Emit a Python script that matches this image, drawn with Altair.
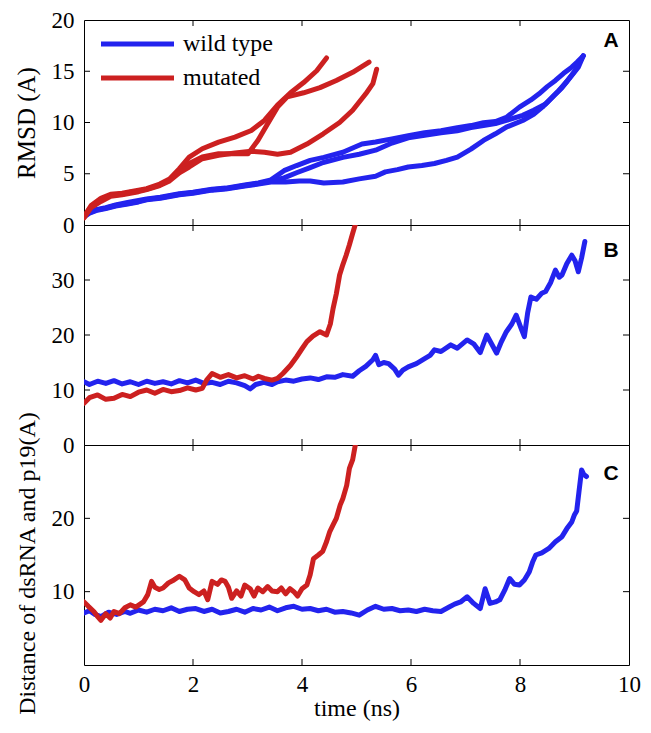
import altair as alt
import pandas as pd

SERIES = ["wild type", "mutated"]
COLORS = ["#2323ee", "#cc2020"]
X_LABELS = [0, 2, 4, 6, 8, 10]
X_INNER = [2, 4, 6, 8]

# ---------------- Panel A: RMSD ----------------
A_WT1 = [(0, 0.9), (0.1, 1.3), (0.22, 1.5), (0.4, 1.7), (0.58, 1.95), (0.8, 2.2), (1.0, 2.4), (1.15, 2.55),
         (1.4, 2.7), (1.6, 2.9), (1.75, 3.05), (2.0, 3.2), (2.35, 3.5), (2.6, 3.6), (2.95, 3.9), (3.2, 4.1),
         (3.43, 4.4), (3.67, 5.3), (3.9, 5.8), (4.15, 6.3), (4.4, 6.6), (4.75, 7.1), (5.1, 7.9), (5.35, 8.1),
         (5.65, 8.4), (5.95, 8.7), (6.25, 9.0), (6.55, 9.2), (6.85, 9.5), (7.1, 9.7), (7.33, 9.97), (7.55, 10.1),
         (7.75, 10.5), (7.99, 11.5), (8.2, 12.2), (8.35, 12.8), (8.5, 13.5), (8.65, 14.1), (8.8, 14.8),
         (8.95, 15.4), (9.05, 15.9), (9.16, 16.5)]
A_WT2 = [(0, 0.85), (0.1, 1.2), (0.22, 1.45), (0.4, 1.65), (0.58, 1.9), (0.8, 2.1), (1.0, 2.3), (1.15, 2.5),
         (1.4, 2.65), (1.6, 2.85), (1.75, 3.0), (2.0, 3.15), (2.35, 3.45), (2.6, 3.55), (2.95, 3.85), (3.2, 4.05),
         (3.43, 4.3), (3.67, 4.6), (3.9, 5.1), (4.15, 5.6), (4.39, 6.1), (4.75, 6.6), (5.05, 6.9), (5.35, 7.3),
         (5.65, 8.0), (5.95, 8.5), (6.25, 8.75), (6.55, 9.0), (6.85, 9.2), (7.1, 9.5), (7.33, 9.7), (7.55, 9.9),
         (7.75, 10.2), (8.05, 10.7), (8.25, 11.2), (8.47, 11.8), (8.62, 12.6), (8.77, 13.4), (8.92, 14.4),
         (9.07, 15.4), (9.16, 16.5)]
A_WT3 = [(0, 0.8), (0.1, 1.15), (0.22, 1.4), (0.4, 1.6), (0.58, 1.85), (0.8, 2.05), (1.0, 2.25), (1.15, 2.45),
         (1.4, 2.6), (1.6, 2.8), (1.75, 2.95), (2.0, 3.1), (2.35, 3.4), (2.6, 3.5), (2.95, 3.8), (3.2, 4.0),
         (3.43, 4.2), (3.7, 4.2), (3.95, 4.3), (4.15, 4.3), (4.4, 4.1), (4.75, 4.2), (5.05, 4.5), (5.35, 4.75),
         (5.53, 5.18), (5.75, 5.4), (5.95, 5.66), (6.2, 5.8), (6.43, 6.0), (6.65, 6.3), (6.85, 6.63), (7.1, 7.4),
         (7.33, 8.25), (7.55, 8.9), (7.75, 9.55), (8.05, 10.2), (8.25, 10.8), (8.41, 11.5), (8.56, 12.3),
         (8.71, 13.1), (8.86, 14.0), (9.01, 15.05), (9.16, 16.5)]
A_MU1 = [(0, 0.8), (0.13, 1.9), (0.31, 2.6), (0.49, 3.0), (0.7, 3.1), (0.85, 3.25), (1.0, 3.4), (1.15, 3.55),
         (1.39, 4.0), (1.57, 4.5), (1.75, 5.5), (1.93, 6.63), (2.17, 7.44), (2.47, 8.09), (2.77, 8.58),
         (3.07, 9.22), (3.31, 10.2), (3.55, 11.7), (3.79, 12.9), (4.03, 13.9), (4.27, 15.05), (4.45, 16.3)]
A_MU2 = [(0, 0.75), (0.13, 1.8), (0.31, 2.5), (0.49, 2.9), (0.7, 3.0), (0.85, 3.2), (1.0, 3.3), (1.15, 3.5),
         (1.39, 3.9), (1.57, 4.4), (1.75, 5.3), (1.93, 5.99), (2.17, 6.63), (2.47, 6.96), (2.77, 6.96),
         (3.01, 6.96), (3.19, 8.25), (3.37, 9.87), (3.55, 11.5), (3.73, 12.5), (4.03, 12.9), (4.33, 13.4),
         (4.63, 14.1), (4.93, 14.9), (5.23, 15.9)]
A_MU3 = [(0, 0.7), (0.13, 1.7), (0.31, 2.3), (0.49, 2.8), (0.7, 2.95), (0.85, 3.1), (1.0, 3.25), (1.15, 3.45),
         (1.39, 3.85), (1.57, 4.3), (1.75, 5.1), (1.93, 5.66), (2.17, 6.47), (2.47, 6.8), (2.77, 7.02),
         (3.07, 7.2), (3.31, 7.1), (3.55, 6.9), (3.79, 7.1), (4.09, 7.9), (4.39, 8.9), (4.69, 10.0),
         (4.93, 11.2), (5.17, 12.8), (5.3, 13.8), (5.37, 15.2)]

# ---------------- Panel B: distance ----------------
B_WT = [(0, 11.5), (0.1, 11.0), (0.25, 11.6), (0.4, 11.2), (0.55, 11.7), (0.7, 11.1), (0.85, 11.5), (1.0, 11.0),
        (1.15, 11.6), (1.3, 11.2), (1.45, 11.5), (1.6, 11.1), (1.75, 11.7), (1.9, 11.3), (2.05, 11.8),
        (2.2, 11.2), (2.35, 11.4), (2.5, 11.0), (2.65, 11.6), (2.8, 11.3), (2.95, 10.8), (3.05, 10.2),
        (3.15, 11.0), (3.3, 11.4), (3.45, 11.0), (3.55, 11.5), (3.7, 11.8), (3.85, 11.6), (4.0, 12.0),
        (4.15, 12.2), (4.3, 11.9), (4.45, 12.4), (4.6, 12.3), (4.75, 12.8), (4.93, 12.5), (5.05, 13.5),
        (5.17, 14.3), (5.3, 15.5), (5.35, 16.3), (5.41, 14.6), (5.5, 15.0), (5.59, 14.8), (5.7, 13.8),
        (5.77, 12.7), (5.85, 13.6), (5.95, 14.2), (6.1, 14.8), (6.25, 15.7), (6.35, 16.3), (6.43, 17.3),
        (6.55, 17.0), (6.73, 18.2), (6.85, 17.6), (7.03, 19.1), (7.15, 18.4), (7.27, 16.8), (7.39, 20.0),
        (7.5, 18.0), (7.57, 16.7), (7.66, 18.8), (7.75, 20.6), (7.85, 22.0), (7.93, 23.6), (8.02, 21.2),
        (8.08, 19.7), (8.14, 24.0), (8.2, 26.9), (8.3, 26.5), (8.4, 27.6), (8.47, 27.9), (8.56, 29.5),
        (8.65, 31.8), (8.72, 30.5), (8.77, 30.9), (8.86, 33.0), (8.95, 34.5), (9.01, 33.5), (9.07, 31.5),
        (9.13, 34.0), (9.19, 37.0)]
B_MU = [(0, 7.6), (0.1, 8.6), (0.25, 9.1), (0.4, 8.3), (0.55, 8.5), (0.7, 9.2), (0.85, 8.8), (1.0, 9.6),
        (1.15, 10.0), (1.3, 9.4), (1.45, 10.1), (1.6, 9.7), (1.75, 9.9), (1.9, 10.4), (2.05, 10.0),
        (2.17, 10.3), (2.25, 11.8), (2.35, 13.0), (2.5, 12.3), (2.65, 12.8), (2.8, 12.2), (2.95, 12.6),
        (3.1, 12.0), (3.2, 12.5), (3.31, 12.1), (3.45, 11.8), (3.55, 12.1), (3.65, 13.0), (3.79, 14.5),
        (3.9, 16.0), (4.0, 17.5), (4.09, 18.8), (4.2, 19.8), (4.33, 20.6), (4.45, 20.0), (4.52, 22.0),
        (4.57, 24.8), (4.63, 27.5), (4.69, 30.9), (4.75, 32.8), (4.81, 34.5), (4.87, 36.4), (4.93, 38.5),
        (4.99, 40.5), (5.05, 43.0)]

# ---------------- Panel C: distance ----------------
C_WT = [(0, 7.1), (0.1, 7.4), (0.2, 6.9), (0.31, 6.6), (0.45, 7.2), (0.6, 6.9), (0.75, 7.3), (0.85, 7.05),
        (1.0, 7.5), (1.15, 7.2), (1.3, 7.6), (1.45, 7.4), (1.6, 7.8), (1.75, 7.3), (1.9, 7.6), (2.05, 7.7),
        (2.2, 7.3), (2.35, 7.6), (2.5, 7.1), (2.65, 7.3), (2.8, 7.6), (2.95, 7.2), (3.1, 7.7), (3.25, 7.5),
        (3.4, 7.9), (3.55, 7.4), (3.7, 7.8), (3.85, 8.0), (4.0, 7.6), (4.15, 7.7), (4.3, 7.4), (4.45, 7.6),
        (4.6, 7.2), (4.75, 7.3), (4.9, 7.1), (5.05, 6.8), (5.2, 7.5), (5.35, 8.0), (5.5, 7.6), (5.65, 7.7),
        (5.8, 7.4), (5.95, 7.5), (6.1, 7.3), (6.25, 7.6), (6.4, 7.4), (6.55, 7.3), (6.7, 7.9), (6.8, 8.3),
        (6.91, 8.6), (7.03, 9.3), (7.15, 8.4), (7.27, 7.7), (7.36, 10.4), (7.45, 8.4), (7.55, 8.6),
        (7.63, 8.9), (7.72, 10.2), (7.81, 11.8), (7.9, 11.0), (7.99, 10.9), (8.08, 11.6), (8.17, 12.7),
        (8.23, 14.0), (8.29, 15.0), (8.4, 15.3), (8.53, 15.9), (8.65, 16.8), (8.77, 17.5), (8.86, 18.6),
        (8.95, 19.5), (9.0, 20.5), (9.04, 21.0), (9.08, 23.5), (9.13, 26.6), (9.17, 26.0), (9.22, 25.7)]
C_MU = [(0, 8.6), (0.08, 8.0), (0.18, 7.3), (0.25, 6.6), (0.31, 6.1), (0.4, 7.0), (0.48, 6.4), (0.55, 7.3),
        (0.65, 7.0), (0.75, 7.8), (0.85, 8.2), (0.95, 7.9), (1.09, 8.6), (1.17, 9.6), (1.24, 11.4),
        (1.3, 10.6), (1.38, 10.3), (1.45, 10.5), (1.55, 11.2), (1.65, 11.6), (1.75, 12.1), (1.85, 11.6),
        (1.93, 10.5), (2.02, 10.0), (2.11, 9.6), (2.2, 10.1), (2.27, 8.9), (2.35, 11.4), (2.45, 11.0),
        (2.52, 11.6), (2.59, 11.4), (2.65, 10.6), (2.71, 9.1), (2.8, 10.1), (2.88, 9.4), (2.95, 10.9),
        (3.05, 10.4), (3.12, 9.4), (3.19, 10.5), (3.28, 10.0), (3.37, 10.7), (3.45, 10.1), (3.55, 10.0),
        (3.62, 10.5), (3.7, 9.7), (3.78, 10.4), (3.85, 10.0), (3.92, 9.4), (4.0, 10.4), (4.09, 10.9),
        (4.15, 12.3), (4.21, 14.5), (4.3, 15.0), (4.38, 15.5), (4.45, 16.8), (4.51, 18.2), (4.57, 19.1),
        (4.63, 20.0), (4.7, 21.8), (4.75, 22.7), (4.82, 24.5), (4.87, 26.8), (4.93, 28.0), (4.99, 30.5),
        (5.05, 33.0)]


def frame(runs):
    rows = []
    for series, run, pts in runs:
        for i, (t, v) in enumerate(pts):
            rows.append({"t": t, "v": v, "series": series, "run": run, "i": i})
    return pd.DataFrame(rows)


W = 545
FONT = "Liberation Serif"


def panel(df, H, ymax, ylabels, yticks, letter, letter_y, ytitle, show_x, title_y=None, title_size=25,
          legend=False):
    if show_x:
        x = alt.X("t:Q", scale=alt.Scale(domain=[0, 10], nice=False),
                  axis=alt.Axis(values=X_LABELS, ticks=False, domain=False, grid=False, labelPadding=8,
                                labelFlush=False, format="d", title="time (ns)", titlePadding=0,
                                titleFontSize=24))
    else:
        x = alt.X("t:Q", scale=alt.Scale(domain=[0, 10], nice=False), axis=None)
    yaxis_kw = dict(values=ylabels, ticks=False, domain=False, grid=False, labelPadding=10,
                    labelOverlap=False, title=ytitle, titlePadding=12, titleFontSize=title_size)
    if title_y is not None:
        yaxis_kw["titleY"] = title_y
    y = alt.Y("v:Q", scale=alt.Scale(domain=[0, ymax], nice=False), axis=alt.Axis(**yaxis_kw))

    lines = alt.Chart(df).mark_line(strokeWidth=5, clip=True, strokeCap="round", strokeJoin="round").encode(
        x=x, y=y,
        color=alt.Color("series:N", scale=alt.Scale(domain=SERIES, range=COLORS), legend=None),
        detail="run:N", order="i:Q")
    ydf = pd.DataFrame({"v": yticks})
    xdf = pd.DataFrame({"t": X_INNER})
    lt = alt.Chart(ydf).mark_rule(color="black", strokeWidth=1).encode(y=y, x=alt.value(0), x2=alt.value(6))
    rt = alt.Chart(ydf).mark_rule(color="black", strokeWidth=1).encode(y=y, x=alt.value(W - 6), x2=alt.value(W))
    tt = alt.Chart(xdf).mark_rule(color="black", strokeWidth=1).encode(x=x, y=alt.value(0), y2=alt.value(6))
    bt = alt.Chart(xdf).mark_rule(color="black", strokeWidth=1).encode(x=x, y=alt.value(H - 6), y2=alt.value(H))
    lab = alt.Chart(pd.DataFrame({"s": [letter]})).mark_text(
        font="Liberation Sans", fontWeight="bold", fontSize=21, align="center", baseline="alphabetic",
        color="black").encode(text="s:N", x=alt.value(W - 18), y=alt.value(letter_y))
    layers = [lines, lt, rt, tt, bt, lab]
    if legend:
        for k, (name, col) in enumerate(zip(SERIES, COLORS)):
            yy = 24 + k * 34
            ldf = pd.DataFrame({"s": [name]})
            layers.append(alt.Chart(ldf).mark_rule(color=col, strokeWidth=5).encode(
                x=alt.value(17), x2=alt.value(90), y=alt.value(yy)))
            layers.append(alt.Chart(ldf).mark_text(align="left", baseline="middle", font=FONT, fontSize=24,
                                                   color="black").encode(
                text="s:N", x=alt.value(99), y=alt.value(yy)))
    return alt.layer(*layers).properties(width=W, height=H)


dfA = frame([("wild type", "w1", A_WT1), ("wild type", "w2", A_WT2), ("wild type", "w3", A_WT3),
             ("mutated", "m1", A_MU1), ("mutated", "m2", A_MU2), ("mutated", "m3", A_MU3)])
dfB = frame([("wild type", "w", B_WT), ("mutated", "m", B_MU)])
dfC = frame([("wild type", "w", C_WT), ("mutated", "m", C_MU)])

pA = panel(dfA, 205, 20, [0, 5, 10, 15, 20], [5, 10, 15], "A", 27, "RMSD (A)", False, legend=True)
pB = panel(dfB, 220, 40, [0, 10, 20, 30], [10, 20, 30], "B", 32, None, False)
pC = panel(dfC, 220, 30, [10, 20], [10, 20], "C", 35, "Distance of dsRNA and p19(A)", True,
           title_y=118, title_size=24)

chart = alt.vconcat(pA, pB, pC, spacing=0, bounds="flush").configure_view(
    stroke="black", strokeWidth=1
).configure_axis(
    labelFont=FONT, labelFontSize=23, labelColor="black",
    titleFont=FONT, titleFontSize=25, titleFontWeight="normal", titleColor="black"
).properties(padding={"left": 5, "top": 0, "right": 0, "bottom": 0}, background="white")

chart.save("out.html", embed_options={"renderer": "svg", "actions": False})
